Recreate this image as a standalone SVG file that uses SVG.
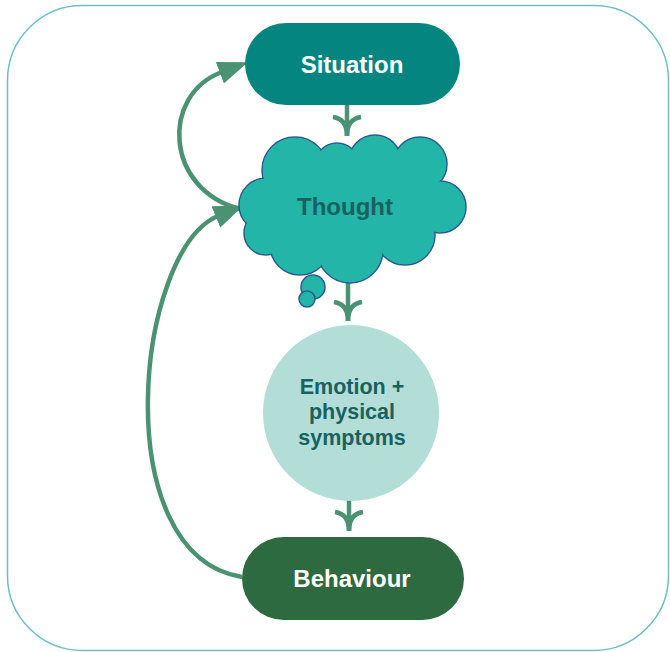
<svg xmlns="http://www.w3.org/2000/svg" width="670" height="652" viewBox="0 0 670 652">
<defs>
<style>
.lbl{font-family:"Liberation Sans",Arial,sans-serif;font-weight:bold;font-size:24px;text-anchor:middle}
.w{fill:#ffffff}
.d{fill:#17625F}
.conn{fill:none;stroke:#4A9272;stroke-width:4.5;stroke-linecap:butt}
.cl{fill:#23B5A7;stroke:#2B5A8E;stroke-width:1.5}
.cf{fill:#23B5A7}
</style>
<marker id="tri" markerUnits="userSpaceOnUse" markerWidth="30" markerHeight="24" refX="2" refY="10" orient="auto" viewBox="0 0 26 20">
<path d="M0,0 L26,10 L0,20 Z" fill="#4A9272"/>
</marker>
</defs>
<rect x="7.5" y="5.5" width="661" height="645" rx="75" ry="75" fill="#ffffff" stroke="#6DBFC0" stroke-width="1.5"/>

<g id="connectors">
<path class="conn" d="M242,577 C105,555 136,250 218,216" marker-end="url(#tri)"/>
<path class="conn" d="M240,209 C165,190 160,95 222,72" marker-end="url(#tri)"/>
<path class="conn" d="M347,85 V136"/>
<path class="conn" d="M333,117 Q347,119 347,136 M361,117 Q347,119 347,136"/>
<path class="conn" d="M348,270 V321"/>
<path class="conn" d="M334,302 Q348,304 348,321 M362,302 Q348,304 348,321"/>
<path class="conn" d="M349,480 V531"/>
<path class="conn" d="M335,512 Q349,514 349,531 M363,512 Q349,514 349,531"/>
</g>

<g id="situation">
<rect x="245" y="23" width="215" height="82" rx="41" fill="#04857F"/>
<text class="lbl w" x="352" y="73">Situation</text>
</g>

<g id="thought">
<circle class="cl" cx="313" cy="287" r="12"/>
<circle class="cl" cx="307" cy="299" r="8"/>
<circle class="cl" cx="266" cy="205" r="27"/>
<circle class="cl" cx="295" cy="170" r="33"/>
<circle class="cl" cx="337" cy="165" r="22"/>
<circle class="cl" cx="375" cy="161" r="26"/>
<circle class="cl" cx="420" cy="164" r="27"/>
<circle class="cl" cx="440" cy="207" r="26"/>
<circle class="cl" cx="405" cy="235" r="30"/>
<circle class="cl" cx="350" cy="250" r="33"/>
<circle class="cl" cx="300" cy="245" r="30"/>
<circle class="cl" cx="266" cy="233" r="22"/>
<circle class="cf" cx="266" cy="205" r="26.2"/>
<circle class="cf" cx="295" cy="170" r="32.2"/>
<circle class="cf" cx="337" cy="165" r="21.2"/>
<circle class="cf" cx="375" cy="161" r="25.2"/>
<circle class="cf" cx="420" cy="164" r="26.2"/>
<circle class="cf" cx="440" cy="207" r="25.2"/>
<circle class="cf" cx="405" cy="235" r="29.2"/>
<circle class="cf" cx="350" cy="250" r="32.2"/>
<circle class="cf" cx="300" cy="245" r="29.2"/>
<circle class="cf" cx="266" cy="233" r="21.2"/>
<ellipse class="cf" cx="352" cy="205" rx="85" ry="48"/>
<text class="lbl d" x="345" y="215">Thought</text>
</g>

<g id="emotion">
<circle cx="351" cy="413" r="88" fill="#B3DDD7"/>
<text class="lbl d" style="font-size:21.5px" x="352" y="394">Emotion +</text>
<text class="lbl d" style="font-size:21.5px" x="352" y="419">physical</text>
<text class="lbl d" style="font-size:21.5px" x="352" y="445">symptoms</text>
</g>

<g id="behaviour">
<rect x="242" y="537" width="222" height="83" rx="41.5" fill="#2E6A3F"/>
<text class="lbl w" x="352" y="587">Behaviour</text>
</g>
</svg>
